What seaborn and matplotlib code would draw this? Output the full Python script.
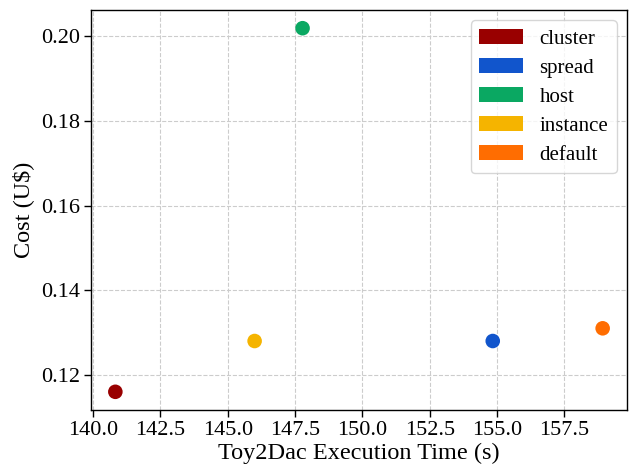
import matplotlib
matplotlib.use("Agg")
import matplotlib.pyplot as plt
from matplotlib.patches import Patch
import seaborn as sns
import pandas as pd

categories = ["cluster", "spread", "host", "instance", "default"]
exec_time = [140.83, 154.84, 147.78, 146.0, 158.92]
cost = [0.116, 0.128, 0.2019, 0.128, 0.131]
colors = ["#990000", "#1155cc", "#0aa862", "#f5b400", "#ff6d01"]

sns.set_theme(style="ticks")
plt.rcParams["font.family"] = ["Liberation Serif", "DejaVu Serif"]
plt.rcParams["text.color"] = "black"
plt.rcParams["axes.labelcolor"] = "black"

df = pd.DataFrame({"strategy": categories, "time": exec_time, "cost": cost})
palette = dict(zip(categories, colors))

fig, ax = plt.subplots(figsize=(6.34, 4.66), dpi=100)
sns.scatterplot(data=df, x="time", y="cost", hue="strategy", palette=palette,
                s=110, edgecolor="none", ax=ax, legend=False, zorder=3)

ax.grid(True, linestyle="--", color="#cccccc", linewidth=0.8)
ax.set_axisbelow(True)
for sp in ax.spines.values():
    sp.set_visible(True)
    sp.set_color("black")
    sp.set_linewidth(1.0)
ax.tick_params(axis="both", direction="out", length=5, width=1, labelsize=16,
               colors="black", labelcolor="black", pad=3)
ax.tick_params(top=False, right=False)
ax.set_xlabel("Toy2Dac Execution Time (s)", fontsize=17.5, color="black", labelpad=2)
ax.set_ylabel("Cost (U$)", fontsize=17.5, color="black", labelpad=5)
ax.set_xticks([140.0, 142.5, 145.0, 147.5, 150.0, 152.5, 155.0, 157.5])
ax.set_yticks([0.12, 0.14, 0.16, 0.18, 0.20])
ax.xaxis.set_major_formatter(matplotlib.ticker.FormatStrFormatter("%.1f"))
ax.yaxis.set_major_formatter(matplotlib.ticker.FormatStrFormatter("%.2f"))

handles = [Patch(facecolor=c, edgecolor="none", label=l) for l, c in zip(categories, colors)]
ax.legend(handles=handles, loc="upper right", fontsize=15, handlelength=2.1,
          handleheight=0.77, labelspacing=0.43, handletextpad=0.8,
          frameon=True, edgecolor="#cccccc", fancybox=True, borderpad=0.4)

fig.subplots_adjust(left=0.1435, right=0.989, top=0.9785, bottom=0.1202)
fig.savefig("out.png", dpi=100)
